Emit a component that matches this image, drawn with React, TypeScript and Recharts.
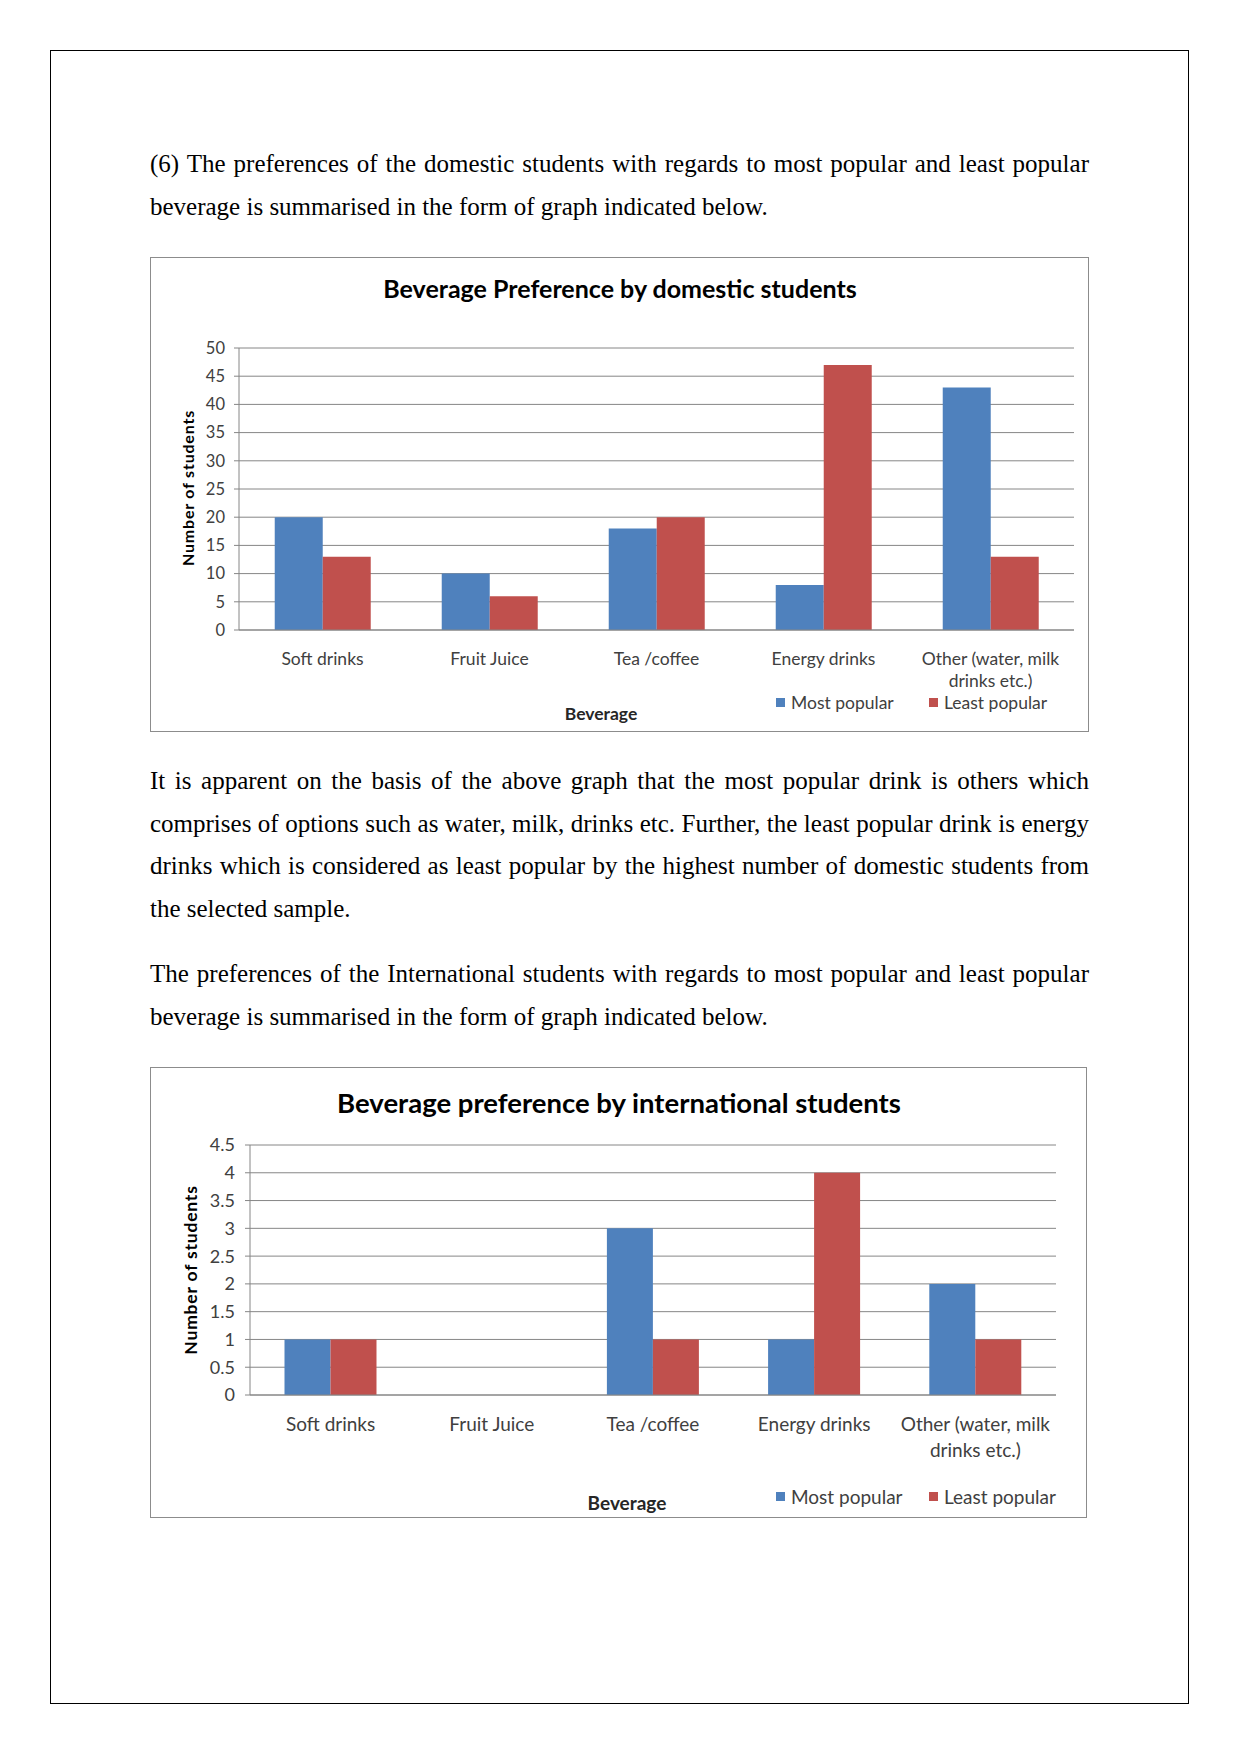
import React from "react";
import { BarChart, Bar, XAxis, YAxis, CartesianGrid, Legend } from "recharts";

// categories and values
const categories = [
  "Soft drinks",
  "Fruit Juice",
  "Tea /coffee",
  "Energy drinks",
  "Other (water, milk\ndrinks etc.)",
];
const seriesNames = ["Most popular", "Least popular"];

const domesticMost = [20, 10, 18, 8, 43];
const domesticLeast = [13, 6, 20, 47, 13];
const domesticTicks = [0, 5, 10, 15, 20, 25, 30, 35, 40, 45, 50];

const intlMost = [1, 0, 3, 1, 2];
const intlLeast = [1, 0, 1, 4, 1];
const intlTicks = [0, 0.5, 1, 1.5, 2, 2.5, 3, 3.5, 4, 4.5];

const BLUE = "#4F81BD";
const RED = "#C0504D";
const GRID = "#868686";
const INK = "#404040";
const FONT = "Lato, 'Open Sans', sans-serif";

function buildRows(most: number[], least: number[]) {
  return categories.map((name, i) => ({ name, most: most[i], least: least[i] }));
}

const CategoryTick = (props: any) => {
  const { x, y, payload, fontSize, gap, lineH } = props;
  const lines = String(payload.value).split("\n");
  return (
    <text x={x} y={y} textAnchor="middle" fill={INK} fontSize={fontSize} fontFamily={FONT}>
      {lines.map((l: string, i: number) => (
        <tspan key={i} x={x} y={y + gap + i * lineH} dominantBaseline="central">
          {l}
        </tspan>
      ))}
    </text>
  );
};

const LegendBox = (props: any) => {
  const { payload, fontSize } = props;
  const items = [...(payload || [])].sort(
    (a: any, b: any) => seriesNames.indexOf(a.value) - seriesNames.indexOf(b.value)
  );
  return (
    <div style={{ display: "flex", fontFamily: FONT, fontSize, color: INK }}>
      {items.map((p: any) => (
        <div key={p.value} style={{ width: 153, display: "flex", alignItems: "center", height: 20 }}>
          <span style={{ width: 9, height: 9, background: p.color, marginRight: 6, display: "inline-block" }} />
          <span style={{ whiteSpace: "nowrap" }}>{p.value}</span>
        </div>
      ))}
    </div>
  );
};

interface ChartProps {
  title: string;
  most: number[];
  least: number[];
  ticks: number[];
  box: { left: number; top: number; width: number; height: number };
  margin: { top: number; right: number; bottom: number; left: number };
  yWidth: number;
  titleAt: [number, number];
  titleSize: number;
  yLabelAt: [number, number];
  yLabelSize: number;
  xLabelAt: [number, number];
  legendTop: number;
  fs: number;
  lineH: number;
  tickFs: number;
  tickGap: number;
}

function BeverageChart(c: ChartProps) {
  const data = buildRows(c.most, c.least);
  return (
    <div style={{ position: "absolute", left: c.box.left, top: c.box.top, width: c.box.width, height: c.box.height }}>
      <div
        style={{
          position: "absolute",
          inset: 0,
          border: "1px solid #8c8c8c",
          boxSizing: "border-box",
        }}
      />
      <BarChart
        width={c.box.width}
        height={c.box.height}
        data={data}
        margin={c.margin}
        barCategoryGap="21.4%"
        barGap={0}
      >
        <CartesianGrid vertical={false} stroke={GRID} strokeWidth={1} />
        <XAxis
          dataKey="name"
          height={30}
          stroke={GRID}
          tickLine={false}
          tickSize={0}
          interval={0}
          tick={<CategoryTick fontSize={c.fs} gap={26} lineH={c.lineH} />}
        />
        <YAxis
          width={c.yWidth}
          domain={[0, c.ticks[c.ticks.length - 1]]}
          ticks={c.ticks}
          stroke={GRID}
          tickSize={5}
          tickMargin={c.tickGap}
          tick={{ fill: INK, fontSize: c.tickFs, fontFamily: FONT }}
        />
        <Legend
          verticalAlign="middle"
          layout="horizontal"
          align="center"
          wrapperStyle={{ left: 626, top: c.legendTop - 10, width: 320 }}
          content={<LegendBox fontSize={c.fs} />}
        />
        <Bar dataKey="most" name={seriesNames[0]} fill={BLUE} isAnimationActive={false} />
        <Bar dataKey="least" name={seriesNames[1]} fill={RED} isAnimationActive={false} />
      </BarChart>
      <div
        style={{
          position: "absolute",
          left: c.titleAt[0],
          top: c.titleAt[1],
          transform: "translate(-50%, -50%)",
          fontFamily: FONT,
          fontWeight: 700,
          fontSize: c.titleSize,
          whiteSpace: "nowrap",
          color: "#000",
        }}
      >
        {c.title}
      </div>
      <div
        style={{
          position: "absolute",
          left: c.yLabelAt[0],
          top: c.yLabelAt[1],
          transform: "translate(-50%, -50%) rotate(-90deg)",
          fontFamily: FONT,
          fontWeight: 700,
          fontSize: c.yLabelSize,
          letterSpacing: 0.8,
          whiteSpace: "nowrap",
          color: "#000",
        }}
      >
        Number of students
      </div>
      <div
        style={{
          position: "absolute",
          left: c.xLabelAt[0],
          top: c.xLabelAt[1],
          transform: "translate(-50%, -50%)",
          fontFamily: FONT,
          fontWeight: 700,
          fontSize: c.fs,
          whiteSpace: "nowrap",
          color: "#262626",
        }}
      >
        Beverage
      </div>
    </div>
  );
}

const para1 = [
  "(6) The preferences of the domestic students with regards to most popular and least popular",
  "beverage is summarised in the form of graph indicated below.",
];
const para2 = [
  "It is apparent on the basis of the above graph that the most popular drink is others which",
  "comprises of options such as water, milk, drinks etc. Further, the least popular drink is energy",
  "drinks which is considered as least popular by the highest number of domestic students from",
  "the selected sample.",
];
const para3 = [
  "The preferences of the International students with regards to most popular and least popular",
  "beverage is summarised in the form of graph indicated below.",
];

function Paragraph({ lines, top }: { lines: string[]; top: number }) {
  return (
    <div
      style={{
        position: "absolute",
        left: 150,
        top,
        width: 939,
        fontFamily: "'Liberation Serif', 'Times New Roman', serif",
        fontSize: 25,
        lineHeight: "42.5px",
        color: "#000",
      }}
    >
      {lines.map((l, i) => (
        <div
          key={i}
          style={{
            textAlign: "justify",
            textAlignLast: i < lines.length - 1 ? "justify" : "left",
            whiteSpace: "nowrap",
          }}
        >
          {l}
        </div>
      ))}
    </div>
  );
}

export default function App() {
  return (
    <div style={{ position: "absolute", left: 0, top: 0, width: 1241, height: 1754, background: "#fff" }}>
      <div
        style={{
          position: "absolute",
          left: 50,
          top: 50,
          width: 1139,
          height: 1654,
          border: "1px solid #000",
          boxSizing: "border-box",
        }}
      />
      <Paragraph lines={para1} top={143} />
      <BeverageChart
        title="Beverage Preference by domestic students"
        most={domesticMost}
        least={domesticLeast}
        ticks={domesticTicks}
        box={{ left: 150, top: 257, width: 939, height: 475 }}
        margin={{ top: 91, right: 15, bottom: 72, left: 49 }}
        yWidth={40}
        titleAt={[470, 31]}
        titleSize={25}
        yLabelAt={[37, 231]}
        yLabelSize={16}
        xLabelAt={[451, 456]}
        legendTop={445}
        fs={17.5}
        lineH={22}
        tickFs={16.5}
        tickGap={9}
      />
      <Paragraph lines={para2} top={760} />
      <Paragraph lines={para3} top={953} />
      <BeverageChart
        title="Beverage preference by international students"
        most={intlMost}
        least={intlLeast}
        ticks={intlTicks}
        box={{ left: 150, top: 1067, width: 937, height: 451 }}
        margin={{ top: 78, right: 31, bottom: 93, left: 50 }}
        yWidth={50}
        titleAt={[469, 35]}
        titleSize={27.5}
        yLabelAt={[40, 203]}
        yLabelSize={17.5}
        xLabelAt={[477, 435]}
        legendTop={429}
        fs={19}
        lineH={26}
        tickFs={18}
        tickGap={10}
      />
    </div>
  );
}
